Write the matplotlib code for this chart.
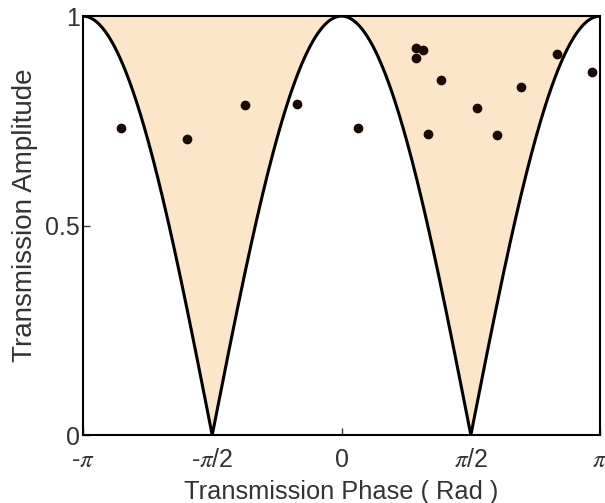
import numpy as np
import matplotlib
matplotlib.use("Agg")
import matplotlib.pyplot as plt

# measured samples (phase in rad, amplitude)
phase = [-2.68, -1.88, -1.17, -0.54, 0.20, 0.91, 0.99, 0.90, 1.21, 1.65,
         1.05, 1.89, 2.18, 2.62, 3.04]
amp = [0.733, 0.706, 0.787, 0.791, 0.733, 0.925, 0.920, 0.899, 0.847, 0.780,
       0.719, 0.717, 0.830, 0.909, 0.866]

xticks = [-np.pi, -np.pi / 2, 0, np.pi / 2, np.pi]
xticklabels = [r"-$\pi$", r"-$\pi$/2", "0", r"$\pi$/2", r"$\pi$"]
yticks = [0, 0.5, 1]
yticklabels = ["0", "0.5", "1"]

plt.rcParams["font.family"] = ["Liberation Sans", "DejaVu Sans"]
plt.rcParams["mathtext.fontset"] = "stix"

fig = plt.figure(figsize=(6.05, 5.03), dpi=100)
ax = fig.add_axes([0.137, 0.135, 0.855, 0.833])

# theoretical bound |cos(phi)|
x = np.linspace(-np.pi, np.pi, 2001)
bound = np.abs(np.cos(x))
ax.fill_between(x, bound, 1, color="#fce6c9", lw=0)
ax.plot(x, bound, color="k", lw=2.2)
ax.plot(phase, amp, "o", color="#1a0a05", ms=6, mec="#1a0a05")

ax.set_xlim(-np.pi, np.pi)
ax.set_ylim(0, 1)
ax.set_xticks(xticks)
ax.set_xticklabels(xticklabels)
ax.set_yticks(yticks)
ax.set_yticklabels(yticklabels)
ax.tick_params(direction="in", length=5, width=1, labelsize=18, colors="#333333",
               labelcolor="#333333")
ax.tick_params(axis="x", pad=9)
ax.tick_params(axis="y", pad=2)
for s in ax.spines.values():
    s.set_linewidth(1.5)
    s.set_color("k")
ax.set_xlabel("Transmission Phase ( Rad )", fontsize=18.3, color="#333333", labelpad=6)
ax.set_ylabel("Transmission Amplitude", fontsize=20, color="#333333")
ax.yaxis.set_label_coords(-0.087, 0.525)

fig.savefig("out.png", dpi=100)
